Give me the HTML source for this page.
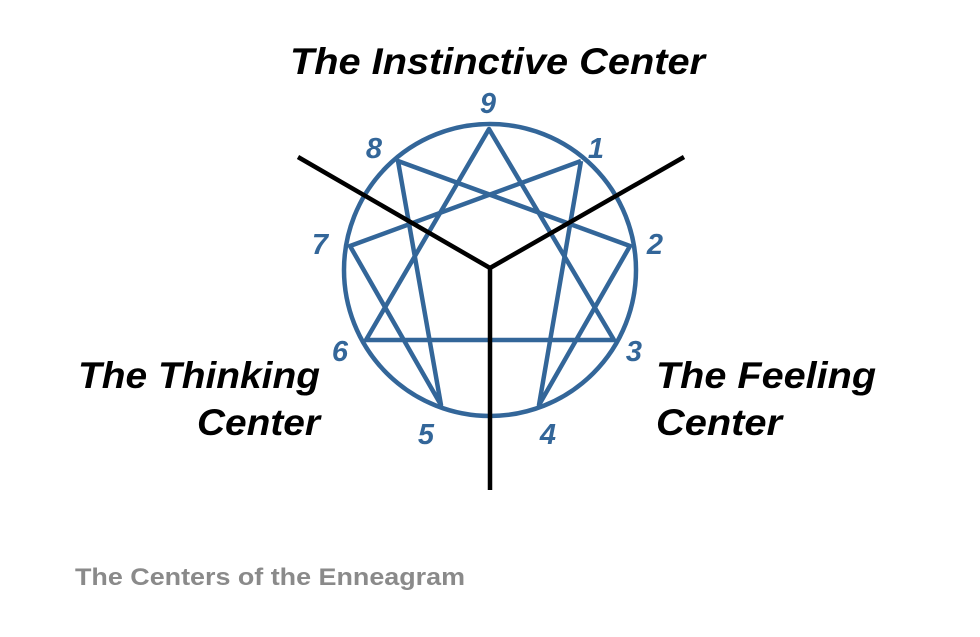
<!DOCTYPE html>
<html><head><style>
html,body{margin:0;padding:0;background:#fff;}
svg{display:block;}
</style></head><body>
<svg width="980" height="637" viewBox="0 0 980 637" xmlns="http://www.w3.org/2000/svg">
<g fill="none" stroke="#336699" stroke-width="4.5" stroke-linejoin="round">
<circle cx="490" cy="270" r="146"/>
<polygon points="489,129 614,340 366,340"/>
<polyline points="581,161 539,405 630,246 398,161 441,405 350,246 581,161"/>
</g>
<g stroke="#000" stroke-width="4.5" stroke-linecap="butt" fill="none">
<polyline points="298,157 490,268 684,157"/>
<line x1="490" y1="268" x2="490" y2="490"/>
</g>
<g font-family="Liberation Sans, sans-serif" font-weight="bold" font-style="italic" fill="#336699" font-size="29">
<text x="488" y="113" text-anchor="middle">9</text>
<text x="596" y="158" text-anchor="middle">1</text>
<text x="655" y="254" text-anchor="middle">2</text>
<text x="634" y="361" text-anchor="middle">3</text>
<text x="548" y="444" text-anchor="middle">4</text>
<text x="426" y="444" text-anchor="middle">5</text>
<text x="340" y="361" text-anchor="middle">6</text>
<text x="320" y="254" text-anchor="middle">7</text>
<text x="374" y="158" text-anchor="middle">8</text>
</g>
<g font-family="Liberation Sans, sans-serif" font-weight="bold" font-style="italic" fill="#000" font-size="37" lengthAdjust="spacingAndGlyphs">
<text x="290" y="74" textLength="415" lengthAdjust="spacingAndGlyphs">The Instinctive Center</text>
<text x="78" y="388" textLength="242" lengthAdjust="spacingAndGlyphs">The Thinking</text>
<text x="197" y="435" textLength="123" lengthAdjust="spacingAndGlyphs">Center</text>
<text x="656" y="388" textLength="220" lengthAdjust="spacingAndGlyphs">The Feeling</text>
<text x="656" y="435" textLength="126" lengthAdjust="spacingAndGlyphs">Center</text>
</g>
<text x="75" y="585" font-family="Liberation Sans, sans-serif" font-weight="bold" font-size="24" fill="#8a8a8a" textLength="390" lengthAdjust="spacingAndGlyphs">The Centers of the Enneagram</text>
</svg>
</body></html>
